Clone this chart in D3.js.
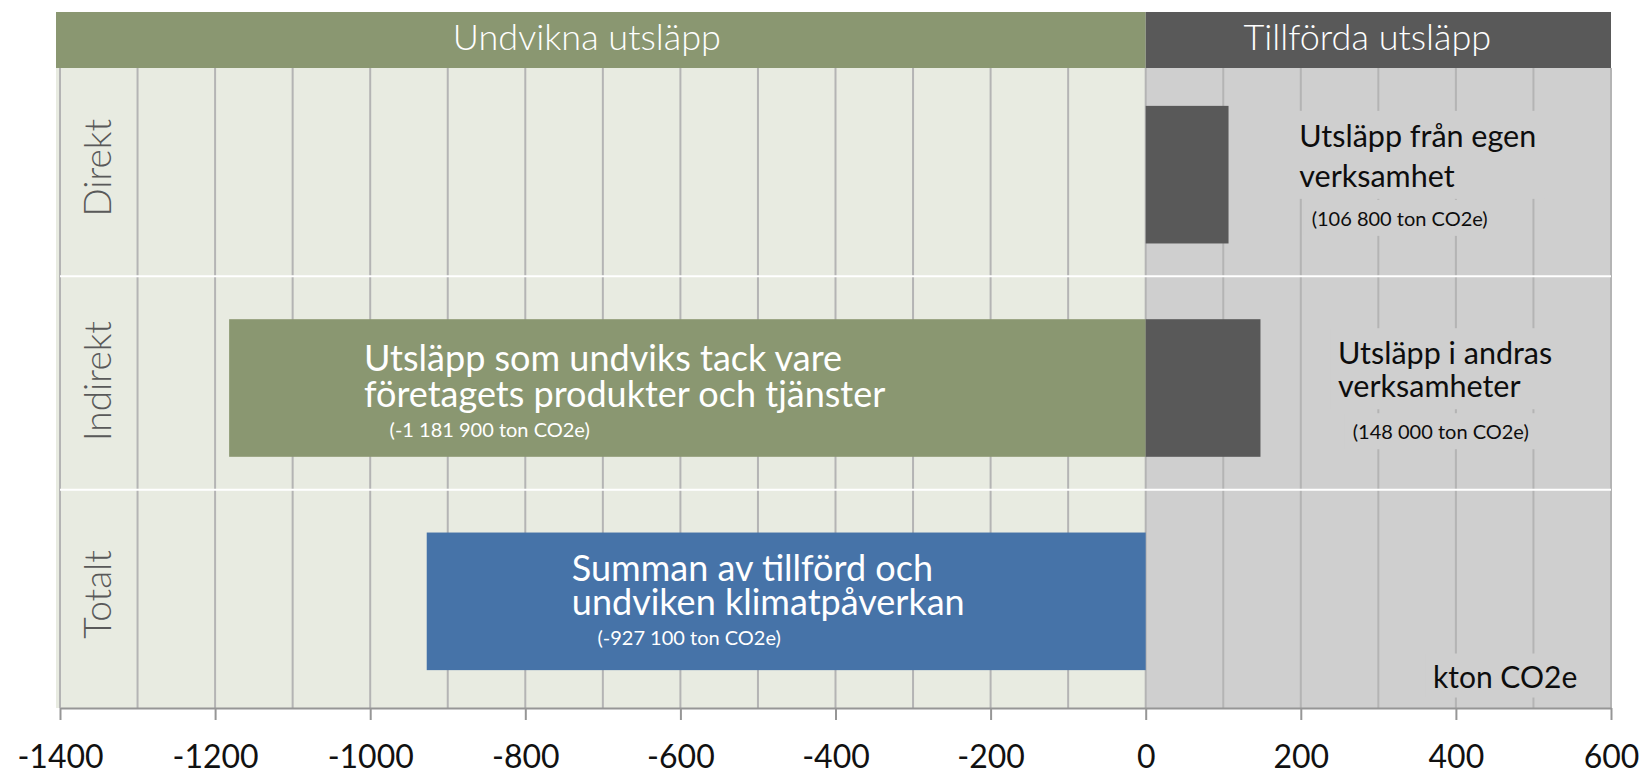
<!DOCTYPE html>
<html lang="sv">
<head>
<meta charset="utf-8">
<script src="https://cdn.jsdelivr.net/npm/d3@7"></script>
<style>
  body { margin: 0; background: #fff; }
  text { font-family: Lato, "Open Sans", sans-serif; }
</style>
</head>
<body>
<div id="chart"></div>
<script>
// kton CO2e per rad
const rows = ["Direkt", "Indirekt", "Totalt"]
const avoided = [null, -1181.9, null]
const added = [106.8, 148.0, null]
const net = [null, null, -927.1]

const tickLabels = [-1400, -1200, -1000, -800, -600, -400, -200, 0, 200, 400, 600]
const headers = ["Undvikna utsläpp", "Tillförda utsläpp"]

const labelTitles = [
  ["Utsläpp från egen", "verksamhet"],
  ["Utsläpp som undviks tack vare", "företagets produkter och tjänster"],
  ["Utsläpp i andras", "verksamheter"],
  ["Summan av tillförd och", "undviken klimatpåverkan"]
]
const labelNotes = ["(106 800 ton CO2e)", "(-1 181 900 ton CO2e)", "(148 000 ton CO2e)", "(-927 100 ton CO2e)"]
const unitLabel = "kton CO2e"

const WIDTH = 1646
const HEIGHT = 776
const PLOT = { LEFT: 60, RIGHT: 1611, TOP: 68, BOTTOM: 708 }

const GREEN = "#8a9771"
const GREEN_BG = "#e8ebe1"
const GREY_BG = "#cfcfcf"
const DARK = "#595959"
const BLUE = "#4673a8"

const svg = d3.select("#chart").append("svg")
  .attr("width", WIDTH)
  .attr("height", HEIGHT)

const x = d3.scaleLinear()
  .domain([-1400, 600])
  .range([PLOT.LEFT, PLOT.RIGHT])

const y = d3.scaleBand()
  .domain(rows)
  .range([PLOT.TOP, PLOT.BOTTOM])
  .paddingInner(0.355)
  .paddingOuter(0.1775)

// backgrounds
svg.append("rect")
  .attr("x", x(-1400) - 4)
  .attr("y", PLOT.TOP)
  .attr("width", x(0) - x(-1400) + 4)
  .attr("height", PLOT.BOTTOM - PLOT.TOP)
  .attr("fill", GREEN_BG)

svg.append("rect")
  .attr("x", x(0))
  .attr("y", PLOT.TOP)
  .attr("width", x(600) - x(0))
  .attr("height", PLOT.BOTTOM - PLOT.TOP)
  .attr("fill", GREY_BG)

// header bands
const headerBands = [[x(-1400) - 4, x(0), GREEN], [x(0), x(600), DARK]]
svg.selectAll(".header")
  .data(headerBands)
  .enter().append("rect")
    .attr("class", "header")
    .attr("x", d => d[0])
    .attr("y", 12)
    .attr("width", d => d[1] - d[0])
    .attr("height", PLOT.TOP - 12)
    .attr("fill", d => d[2])

svg.selectAll(".header-text")
  .data(headers)
  .enter().append("text")
    .attr("class", "header-text")
    .attr("x", (d, i) => (headerBands[i][0] + headerBands[i][1]) / 2 - (i ? 11 : 14))
    .attr("y", 50)
    .attr("text-anchor", "middle")
    .attr("font-size", "36px")
    .attr("font-weight", 300)
    .attr("fill", "#fff")
    .text(d => d)

// gridlines every 100
svg.append("g")
  .selectAll("line")
  .data(x.ticks(20))
  .enter().append("line")
    .attr("x1", d => x(d))
    .attr("x2", d => x(d))
    .attr("y1", PLOT.TOP)
    .attr("y2", PLOT.BOTTOM)
    .attr("stroke", "#b4b4b4")
    .attr("stroke-width", 2)

// row separators
svg.append("g")
  .selectAll("line")
  .data(rows.slice(1))
  .enter().append("line")
    .attr("x1", x(-1400))
    .attr("x2", x(600))
    .attr("y1", d => y(d) - y.step() * y.paddingInner() / 2 - 5)
    .attr("y2", d => y(d) - y.step() * y.paddingInner() / 2 - 5)
    .attr("stroke", "#fff")
    .attr("stroke-width", 2)

// label boxes in the grey zone hide the gridlines
const boxLayer = svg.append("g")

// bars
function drawBars(values, color) {
  const data = rows.map((r, i) => ({ row: r, value: values[i] })).filter(d => d.value !== null)
  svg.append("g")
    .selectAll("rect")
    .data(data)
    .enter().append("rect")
      .attr("x", d => x(Math.min(0, d.value)))
      .attr("y", d => y(d.row))
      .attr("width", d => Math.abs(x(d.value) - x(0)))
      .attr("height", y.bandwidth())
      .attr("fill", color)
}
drawBars(avoided, GREEN)
drawBars(added, DARK)
drawBars(net, BLUE)

// axis
const xAxis = d3.axisBottom(x)
  .tickValues(tickLabels)
  .tickSize(12)
  .tickSizeOuter(0)
  .tickPadding(25)
  .tickFormat(d => String(d))

const axisG = svg.append("g")
  .attr("transform", `translate(0, ${PLOT.BOTTOM})`)
  .call(xAxis)
axisG.select(".domain").attr("stroke", "#969696").attr("stroke-width", 2)
axisG.selectAll(".tick line").attr("stroke", "#969696").attr("stroke-width", 2)
axisG.selectAll(".tick text")
  .attr("font-family", "Lato, sans-serif")
  .attr("font-size", "32px")
  .attr("fill", "#111")

// row labels
svg.selectAll(".row-label")
  .data(rows)
  .enter().append("text")
    .attr("class", "row-label")
    .attr("transform", d => `translate(111, ${y(d) + y.bandwidth() / 2 - 7}) rotate(-90)`)
    .attr("text-anchor", "middle")
    .attr("font-size", "37px")
    .attr("font-weight", 300)
    .attr("fill", DARK)
    .text(d => d)

// annotations: title x and note x in kton, baselines from bar top
const annotations = [
  { row: "Direkt", tx: 198, nx: 214, dy: [41, 81, 120], color: "#0d0d0d", size: 30.5, boxed: true },
  { row: "Indirekt", tx: -1008, nx: -975, dy: [52, 88, 118], color: "#fff", size: 36, boxed: false },
  { row: "Indirekt", tx: 248, nx: 267, dy: [45, 78, 120], color: "#0d0d0d", size: 30.5, boxed: true },
  { row: "Totalt", tx: -740, nx: -707, dy: [48, 82.5, 112.4], color: "#fff", size: 36, boxed: false }
]

annotations.forEach((a, i) => {
  const g = svg.append("g")
  const title = g.append("text")
    .attr("font-size", a.size + "px")
    .attr("fill", a.color)
  labelTitles[i].forEach((line, j) => {
    title.append("tspan")
      .attr("x", x(a.tx))
      .attr("y", y(a.row) + a.dy[j])
      .text(line)
  })
  const note = g.append("text")
    .attr("x", x(a.nx))
    .attr("y", y(a.row) + a.dy[2])
    .attr("font-size", "20px")
    .attr("fill", a.color)
    .text(labelNotes[i])

  if (a.boxed) {
    [title, note].forEach(t => {
      const b = t.node().getBBox()
      boxLayer.append("rect")
        .attr("x", b.x - 8)
        .attr("y", b.y - 6)
        .attr("width", b.width + 16)
        .attr("height", b.height + 12)
        .attr("fill", GREY_BG)
    })
  }
})

// unit label
const unit = svg.append("text")
  .attr("x", x(370.5))
  .attr("y", y("Totalt") + 155)
  .attr("font-size", "30px")
  .attr("fill", "#0d0d0d")
  .text(unitLabel)
const ub = unit.node().getBBox()
boxLayer.append("rect")
  .attr("x", ub.x - 8)
  .attr("y", ub.y - 4)
  .attr("width", ub.width + 16)
  .attr("height", ub.height + 8)
  .attr("fill", GREY_BG)
</script>
</body>
</html>
